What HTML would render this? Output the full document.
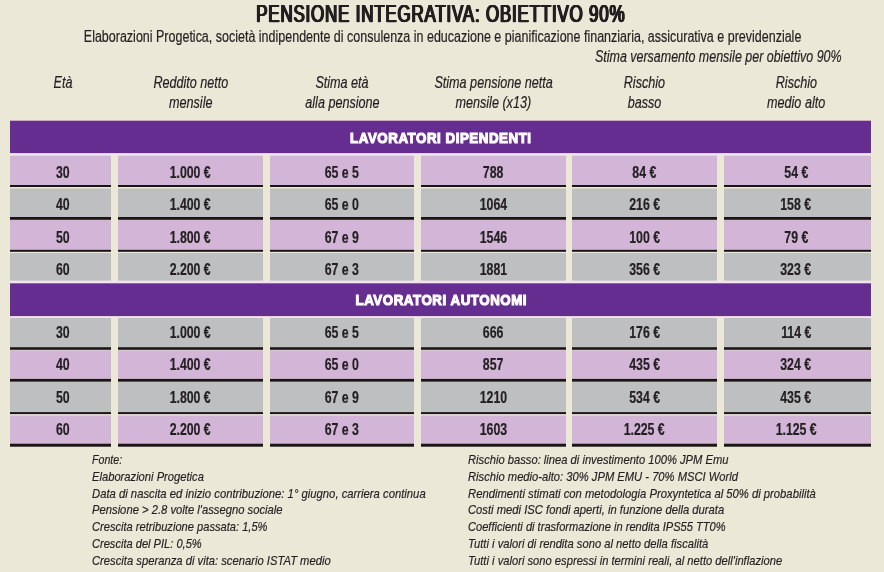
<!DOCTYPE html><html lang="it"><head><meta charset="utf-8"><title>Pensione integrativa: obiettivo 90%</title><style>
html,body{margin:0;padding:0}
body{width:884px;height:572px;overflow:hidden;background:#ebe8d7;position:relative;font-family:"Liberation Sans",sans-serif;color:#231f20}
.a{position:absolute}
.t{position:absolute;white-space:nowrap;line-height:1;text-align:center}
.t span{display:inline-block;transform-origin:50% 50%}
.l{position:absolute;white-space:nowrap;line-height:1;text-align:left}
.l span{display:inline-block;transform-origin:0 50%}
.r{position:absolute;white-space:nowrap;line-height:1;text-align:right}
.r span{display:inline-block;transform-origin:100% 50%}
.i{font-style:italic}
.b{font-weight:bold}
.c{-webkit-text-stroke:0.2px #231f20}
.f{-webkit-text-stroke:0.2px #231f20}

</style></head><body>
<svg class="a" style="left:0;top:0" width="884" height="572" viewBox="0 0 884 572"><rect x="10" y="120.7" width="861" height="32.6" fill="#662d91"/><rect x="10" y="283" width="861" height="33.3" fill="#662d91"/><rect x="10" y="153.3" width="861" height="2.4" fill="#f1e4f1"/><rect x="10" y="280.6" width="861" height="2.7" fill="#f1e4f1"/><rect x="10" y="316.3" width="861" height="1.7" fill="#f1e4f1"/><rect x="10" y="155.7" width="101" height="29.3" fill="#d3b5d8"/><rect x="10" y="185" width="101" height="2" fill="#1a1415"/><rect x="118" y="155.7" width="145" height="29.3" fill="#d3b5d8"/><rect x="118" y="185" width="145" height="2" fill="#1a1415"/><rect x="270" y="155.7" width="144" height="29.3" fill="#d3b5d8"/><rect x="270" y="185" width="144" height="2" fill="#1a1415"/><rect x="421" y="155.7" width="145" height="29.3" fill="#d3b5d8"/><rect x="421" y="185" width="145" height="2" fill="#1a1415"/><rect x="572" y="155.7" width="145" height="29.3" fill="#d3b5d8"/><rect x="572" y="185" width="145" height="2" fill="#1a1415"/><rect x="724" y="155.7" width="147" height="29.3" fill="#d3b5d8"/><rect x="724" y="185" width="147" height="2" fill="#1a1415"/><rect x="10" y="188.5" width="101" height="28.5" fill="#bdbfc0"/><rect x="10" y="217" width="101" height="2.8" fill="#1a1415"/><rect x="118" y="188.5" width="145" height="28.5" fill="#bdbfc0"/><rect x="118" y="217" width="145" height="2.8" fill="#1a1415"/><rect x="270" y="188.5" width="144" height="28.5" fill="#bdbfc0"/><rect x="270" y="217" width="144" height="2.8" fill="#1a1415"/><rect x="421" y="188.5" width="145" height="28.5" fill="#bdbfc0"/><rect x="421" y="217" width="145" height="2.8" fill="#1a1415"/><rect x="572" y="188.5" width="145" height="28.5" fill="#bdbfc0"/><rect x="572" y="217" width="145" height="2.8" fill="#1a1415"/><rect x="724" y="188.5" width="147" height="28.5" fill="#bdbfc0"/><rect x="724" y="217" width="147" height="2.8" fill="#1a1415"/><rect x="10" y="220" width="101" height="29.8" fill="#d3b5d8"/><rect x="10" y="249.8" width="101" height="2" fill="#1a1415"/><rect x="118" y="220" width="145" height="29.8" fill="#d3b5d8"/><rect x="118" y="249.8" width="145" height="2" fill="#1a1415"/><rect x="270" y="220" width="144" height="29.8" fill="#d3b5d8"/><rect x="270" y="249.8" width="144" height="2" fill="#1a1415"/><rect x="421" y="220" width="145" height="29.8" fill="#d3b5d8"/><rect x="421" y="249.8" width="145" height="2" fill="#1a1415"/><rect x="572" y="220" width="145" height="29.8" fill="#d3b5d8"/><rect x="572" y="249.8" width="145" height="2" fill="#1a1415"/><rect x="724" y="220" width="147" height="29.8" fill="#d3b5d8"/><rect x="724" y="249.8" width="147" height="2" fill="#1a1415"/><rect x="10" y="253" width="101" height="27.6" fill="#bdbfc0"/><rect x="118" y="253" width="145" height="27.6" fill="#bdbfc0"/><rect x="270" y="253" width="144" height="27.6" fill="#bdbfc0"/><rect x="421" y="253" width="145" height="27.6" fill="#bdbfc0"/><rect x="572" y="253" width="145" height="27.6" fill="#bdbfc0"/><rect x="724" y="253" width="147" height="27.6" fill="#bdbfc0"/><rect x="10" y="318" width="101" height="29.2" fill="#bdbfc0"/><rect x="10" y="347.2" width="101" height="2.6" fill="#1a1415"/><rect x="118" y="318" width="145" height="29.2" fill="#bdbfc0"/><rect x="118" y="347.2" width="145" height="2.6" fill="#1a1415"/><rect x="270" y="318" width="144" height="29.2" fill="#bdbfc0"/><rect x="270" y="347.2" width="144" height="2.6" fill="#1a1415"/><rect x="421" y="318" width="145" height="29.2" fill="#bdbfc0"/><rect x="421" y="347.2" width="145" height="2.6" fill="#1a1415"/><rect x="572" y="318" width="145" height="29.2" fill="#bdbfc0"/><rect x="572" y="347.2" width="145" height="2.6" fill="#1a1415"/><rect x="724" y="318" width="147" height="29.2" fill="#bdbfc0"/><rect x="724" y="347.2" width="147" height="2.6" fill="#1a1415"/><rect x="10" y="350.3" width="101" height="28.6" fill="#d3b5d8"/><rect x="10" y="378.9" width="101" height="2.9" fill="#1a1415"/><rect x="118" y="350.3" width="145" height="28.6" fill="#d3b5d8"/><rect x="118" y="378.9" width="145" height="2.9" fill="#1a1415"/><rect x="270" y="350.3" width="144" height="28.6" fill="#d3b5d8"/><rect x="270" y="378.9" width="144" height="2.9" fill="#1a1415"/><rect x="421" y="350.3" width="145" height="28.6" fill="#d3b5d8"/><rect x="421" y="378.9" width="145" height="2.9" fill="#1a1415"/><rect x="572" y="350.3" width="145" height="28.6" fill="#d3b5d8"/><rect x="572" y="378.9" width="145" height="2.9" fill="#1a1415"/><rect x="724" y="350.3" width="147" height="28.6" fill="#d3b5d8"/><rect x="724" y="378.9" width="147" height="2.9" fill="#1a1415"/><rect x="10" y="381.8" width="101" height="30.3" fill="#bdbfc0"/><rect x="10" y="412.1" width="101" height="2" fill="#1a1415"/><rect x="118" y="381.8" width="145" height="30.3" fill="#bdbfc0"/><rect x="118" y="412.1" width="145" height="2" fill="#1a1415"/><rect x="270" y="381.8" width="144" height="30.3" fill="#bdbfc0"/><rect x="270" y="412.1" width="144" height="2" fill="#1a1415"/><rect x="421" y="381.8" width="145" height="30.3" fill="#bdbfc0"/><rect x="421" y="412.1" width="145" height="2" fill="#1a1415"/><rect x="572" y="381.8" width="145" height="30.3" fill="#bdbfc0"/><rect x="572" y="412.1" width="145" height="2" fill="#1a1415"/><rect x="724" y="381.8" width="147" height="30.3" fill="#bdbfc0"/><rect x="724" y="412.1" width="147" height="2" fill="#1a1415"/><rect x="10" y="415.5" width="101" height="28.2" fill="#d3b5d8"/><rect x="10" y="443.7" width="101" height="3" fill="#1a1415"/><rect x="118" y="415.5" width="145" height="28.2" fill="#d3b5d8"/><rect x="118" y="443.7" width="145" height="3" fill="#1a1415"/><rect x="270" y="415.5" width="144" height="28.2" fill="#d3b5d8"/><rect x="270" y="443.7" width="144" height="3" fill="#1a1415"/><rect x="421" y="415.5" width="145" height="28.2" fill="#d3b5d8"/><rect x="421" y="443.7" width="145" height="3" fill="#1a1415"/><rect x="572" y="415.5" width="145" height="28.2" fill="#d3b5d8"/><rect x="572" y="443.7" width="145" height="3" fill="#1a1415"/><rect x="724" y="415.5" width="147" height="28.2" fill="#d3b5d8"/><rect x="724" y="443.7" width="147" height="3" fill="#1a1415"/></svg>
<div class="t" style="left:-300px;width:1481px;top:3.00px;font-size:23.0px;text-shadow:1px 0 #231f20,-1px 0 #231f20,0.5px 0 #231f20,-0.5px 0 #231f20;-webkit-text-stroke:0.25px #231f20;letter-spacing:1.1px"><span style="transform:scaleX(0.736)">PENSIONE INTEGRATIVA: OBIETTIVO 90%</span></div>
<div class="t f" style="left:-300px;width:1485px;top:29.00px;font-size:15.8px"><span style="transform:scaleX(0.791)">Elaborazioni Progetica, società indipendente di consulenza in educazione e pianificazione finanziaria, assicurativa e previdenziale</span></div>
<div class="r i f" style="right:42px;top:49.00px;font-size:16.0px"><span style="transform:scaleX(0.779)">Stima versamento mensile per obiettivo 90%</span></div>
<div class="t i f" style="left:-87.0px;width:300px;top:74.00px;font-size:16.1px"><span style="transform:scaleX(0.783)">Età</span></div>
<div class="t i f" style="left:40.5px;width:300px;top:74.00px;font-size:16.1px"><span style="transform:scaleX(0.783)">Reddito netto</span></div>
<div class="t i f" style="left:40.5px;width:300px;top:94.00px;font-size:16.1px"><span style="transform:scaleX(0.783)">mensile</span></div>
<div class="t i f" style="left:192.0px;width:300px;top:74.00px;font-size:16.1px"><span style="transform:scaleX(0.783)">Stima età</span></div>
<div class="t i f" style="left:192.0px;width:300px;top:94.00px;font-size:16.1px"><span style="transform:scaleX(0.783)">alla pensione</span></div>
<div class="t i f" style="left:343.5px;width:300px;top:74.00px;font-size:16.1px"><span style="transform:scaleX(0.783)">Stima pensione netta</span></div>
<div class="t i f" style="left:343.5px;width:300px;top:94.00px;font-size:16.1px"><span style="transform:scaleX(0.783)">mensile (x13)</span></div>
<div class="t i f" style="left:494.5px;width:300px;top:74.00px;font-size:16.1px"><span style="transform:scaleX(0.783)">Rischio</span></div>
<div class="t i f" style="left:494.5px;width:300px;top:94.00px;font-size:16.1px"><span style="transform:scaleX(0.783)">basso</span></div>
<div class="t i f" style="left:646.0px;width:300px;top:74.00px;font-size:16.1px"><span style="transform:scaleX(0.783)">Rischio</span></div>
<div class="t i f" style="left:646.0px;width:300px;top:94.00px;font-size:16.1px"><span style="transform:scaleX(0.783)">medio alto</span></div>
<div class="t b" style="left:-300px;width:1482px;top:131.00px;font-size:14.8px;color:#fff;-webkit-text-stroke:1.1px #fff;letter-spacing:0.6px"><span style="transform:scaleX(0.9)">LAVORATORI DIPENDENTI</span></div>
<div class="t b" style="left:-300px;width:1482px;top:293.00px;font-size:14.8px;color:#fff;-webkit-text-stroke:1.1px #fff;letter-spacing:0.6px"><span style="transform:scaleX(0.9)">LAVORATORI AUTONOMI</span></div>
<div class="t b c" style="left:-37.7px;width:200px;top:165.00px;font-size:15.7px"><span style="transform:scaleX(0.785)">30</span></div>
<div class="t b c" style="left:90.5px;width:200px;top:165.00px;font-size:15.7px"><span style="transform:scaleX(0.785)">1.000 €</span></div>
<div class="t b c" style="left:242.0px;width:200px;top:165.00px;font-size:15.7px"><span style="transform:scaleX(0.785)">65 e 5</span></div>
<div class="t b c" style="left:393.5px;width:200px;top:165.00px;font-size:15.7px"><span style="transform:scaleX(0.785)">788</span></div>
<div class="t b c" style="left:544.5px;width:200px;top:165.00px;font-size:15.7px"><span style="transform:scaleX(0.785)">84 €</span></div>
<div class="t b c" style="left:696.0px;width:200px;top:165.00px;font-size:15.7px"><span style="transform:scaleX(0.785)">54 €</span></div>
<div class="t b c" style="left:-37.7px;width:200px;top:197.00px;font-size:15.7px"><span style="transform:scaleX(0.785)">40</span></div>
<div class="t b c" style="left:90.5px;width:200px;top:197.00px;font-size:15.7px"><span style="transform:scaleX(0.785)">1.400 €</span></div>
<div class="t b c" style="left:242.0px;width:200px;top:197.00px;font-size:15.7px"><span style="transform:scaleX(0.785)">65 e 0</span></div>
<div class="t b c" style="left:393.5px;width:200px;top:197.00px;font-size:15.7px"><span style="transform:scaleX(0.785)">1064</span></div>
<div class="t b c" style="left:544.5px;width:200px;top:197.00px;font-size:15.7px"><span style="transform:scaleX(0.785)">216 €</span></div>
<div class="t b c" style="left:696.0px;width:200px;top:197.00px;font-size:15.7px"><span style="transform:scaleX(0.785)">158 €</span></div>
<div class="t b c" style="left:-37.7px;width:200px;top:230.00px;font-size:15.7px"><span style="transform:scaleX(0.785)">50</span></div>
<div class="t b c" style="left:90.5px;width:200px;top:230.00px;font-size:15.7px"><span style="transform:scaleX(0.785)">1.800 €</span></div>
<div class="t b c" style="left:242.0px;width:200px;top:230.00px;font-size:15.7px"><span style="transform:scaleX(0.785)">67 e 9</span></div>
<div class="t b c" style="left:393.5px;width:200px;top:230.00px;font-size:15.7px"><span style="transform:scaleX(0.785)">1546</span></div>
<div class="t b c" style="left:544.5px;width:200px;top:230.00px;font-size:15.7px"><span style="transform:scaleX(0.785)">100 €</span></div>
<div class="t b c" style="left:696.0px;width:200px;top:230.00px;font-size:15.7px"><span style="transform:scaleX(0.785)">79 €</span></div>
<div class="t b c" style="left:-37.7px;width:200px;top:262.00px;font-size:15.7px"><span style="transform:scaleX(0.785)">60</span></div>
<div class="t b c" style="left:90.5px;width:200px;top:262.00px;font-size:15.7px"><span style="transform:scaleX(0.785)">2.200 €</span></div>
<div class="t b c" style="left:242.0px;width:200px;top:262.00px;font-size:15.7px"><span style="transform:scaleX(0.785)">67 e 3</span></div>
<div class="t b c" style="left:393.5px;width:200px;top:262.00px;font-size:15.7px"><span style="transform:scaleX(0.785)">1881</span></div>
<div class="t b c" style="left:544.5px;width:200px;top:262.00px;font-size:15.7px"><span style="transform:scaleX(0.785)">356 €</span></div>
<div class="t b c" style="left:696.0px;width:200px;top:262.00px;font-size:15.7px"><span style="transform:scaleX(0.785)">323 €</span></div>
<div class="t b c" style="left:-37.7px;width:200px;top:325.00px;font-size:15.7px"><span style="transform:scaleX(0.785)">30</span></div>
<div class="t b c" style="left:90.5px;width:200px;top:325.00px;font-size:15.7px"><span style="transform:scaleX(0.785)">1.000 €</span></div>
<div class="t b c" style="left:242.0px;width:200px;top:325.00px;font-size:15.7px"><span style="transform:scaleX(0.785)">65 e 5</span></div>
<div class="t b c" style="left:393.5px;width:200px;top:325.00px;font-size:15.7px"><span style="transform:scaleX(0.785)">666</span></div>
<div class="t b c" style="left:544.5px;width:200px;top:325.00px;font-size:15.7px"><span style="transform:scaleX(0.785)">176 €</span></div>
<div class="t b c" style="left:696.0px;width:200px;top:325.00px;font-size:15.7px"><span style="transform:scaleX(0.785)">114 €</span></div>
<div class="t b c" style="left:-37.7px;width:200px;top:357.00px;font-size:15.7px"><span style="transform:scaleX(0.785)">40</span></div>
<div class="t b c" style="left:90.5px;width:200px;top:357.00px;font-size:15.7px"><span style="transform:scaleX(0.785)">1.400 €</span></div>
<div class="t b c" style="left:242.0px;width:200px;top:357.00px;font-size:15.7px"><span style="transform:scaleX(0.785)">65 e 0</span></div>
<div class="t b c" style="left:393.5px;width:200px;top:357.00px;font-size:15.7px"><span style="transform:scaleX(0.785)">857</span></div>
<div class="t b c" style="left:544.5px;width:200px;top:357.00px;font-size:15.7px"><span style="transform:scaleX(0.785)">435 €</span></div>
<div class="t b c" style="left:696.0px;width:200px;top:357.00px;font-size:15.7px"><span style="transform:scaleX(0.785)">324 €</span></div>
<div class="t b c" style="left:-37.7px;width:200px;top:390.00px;font-size:15.7px"><span style="transform:scaleX(0.785)">50</span></div>
<div class="t b c" style="left:90.5px;width:200px;top:390.00px;font-size:15.7px"><span style="transform:scaleX(0.785)">1.800 €</span></div>
<div class="t b c" style="left:242.0px;width:200px;top:390.00px;font-size:15.7px"><span style="transform:scaleX(0.785)">67 e 9</span></div>
<div class="t b c" style="left:393.5px;width:200px;top:390.00px;font-size:15.7px"><span style="transform:scaleX(0.785)">1210</span></div>
<div class="t b c" style="left:544.5px;width:200px;top:390.00px;font-size:15.7px"><span style="transform:scaleX(0.785)">534 €</span></div>
<div class="t b c" style="left:696.0px;width:200px;top:390.00px;font-size:15.7px"><span style="transform:scaleX(0.785)">435 €</span></div>
<div class="t b c" style="left:-37.7px;width:200px;top:422.00px;font-size:15.7px"><span style="transform:scaleX(0.785)">60</span></div>
<div class="t b c" style="left:90.5px;width:200px;top:422.00px;font-size:15.7px"><span style="transform:scaleX(0.785)">2.200 €</span></div>
<div class="t b c" style="left:242.0px;width:200px;top:422.00px;font-size:15.7px"><span style="transform:scaleX(0.785)">67 e 3</span></div>
<div class="t b c" style="left:393.5px;width:200px;top:422.00px;font-size:15.7px"><span style="transform:scaleX(0.785)">1603</span></div>
<div class="t b c" style="left:544.5px;width:200px;top:422.00px;font-size:15.7px"><span style="transform:scaleX(0.785)">1.225 €</span></div>
<div class="t b c" style="left:696.0px;width:200px;top:422.00px;font-size:15.7px"><span style="transform:scaleX(0.785)">1.125 €</span></div>
<div class="l i f" id="fL0" style="left:92px;top:453.00px;font-size:13.6px"><span style="transform:scaleX(0.7835)">Fonte:</span></div>
<div class="l i f" id="fL1" style="left:92px;top:470.00px;font-size:13.6px"><span style="transform:scaleX(0.8226)">Elaborazioni Progetica</span></div>
<div class="l i f" id="fL2" style="left:92px;top:487.00px;font-size:13.6px"><span style="transform:scaleX(0.8297)">Data di nascita ed inizio contribuzione: 1° giugno, carriera continua</span></div>
<div class="l i f" id="fL3" style="left:92px;top:503.00px;font-size:13.6px"><span style="transform:scaleX(0.8271)">Pensione &gt; 2.8 volte l'assegno sociale</span></div>
<div class="l i f" id="fL4" style="left:92px;top:520.00px;font-size:13.6px"><span style="transform:scaleX(0.8178)">Crescita retribuzione passata: 1,5%</span></div>
<div class="l i f" id="fL5" style="left:92px;top:537.00px;font-size:13.6px"><span style="transform:scaleX(0.8156)">Crescita del PIL: 0,5%</span></div>
<div class="l i f" id="fL6" style="left:92px;top:554.00px;font-size:13.6px"><span style="transform:scaleX(0.8264)">Crescita speranza di vita: scenario ISTAT medio</span></div>
<div class="l i f" id="fR0" style="left:468px;top:453.00px;font-size:13.6px"><span style="transform:scaleX(0.8228)">Rischio basso: linea di investimento 100% JPM Emu</span></div>
<div class="l i f" id="fR1" style="left:468px;top:470.00px;font-size:13.6px"><span style="transform:scaleX(0.8235)">Rischio medio-alto: 30% JPM EMU - 70% MSCI World</span></div>
<div class="l i f" id="fR2" style="left:468px;top:487.00px;font-size:13.6px"><span style="transform:scaleX(0.8278)">Rendimenti stimati con metodologia Proxyntetica al 50% di probabilità</span></div>
<div class="l i f" id="fR3" style="left:468px;top:503.00px;font-size:13.6px"><span style="transform:scaleX(0.8270)">Costi medi ISC fondi aperti, in funzione della durata</span></div>
<div class="l i f" id="fR4" style="left:468px;top:520.00px;font-size:13.6px"><span style="transform:scaleX(0.8153)">Coefficienti di trasformazione in rendita IPS55 TT0%</span></div>
<div class="l i f" id="fR5" style="left:468px;top:537.00px;font-size:13.6px"><span style="transform:scaleX(0.8246)">Tutti i valori di rendita sono al netto della fiscalità</span></div>
<div class="l i f" id="fR6" style="left:468px;top:554.00px;font-size:13.6px"><span style="transform:scaleX(0.8233)">Tutti i valori sono espressi in termini reali, al netto dell'inflazione</span></div>
</body></html>
